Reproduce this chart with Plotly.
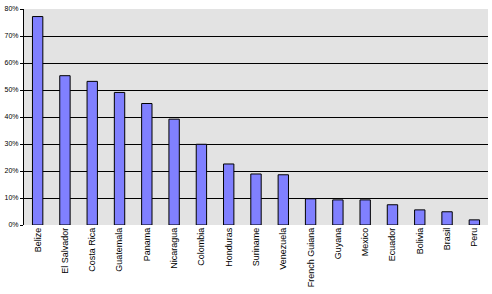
import plotly.graph_objects as go

countries = ["Belize", "El Salvador", "Costa Rica", "Guatemala", "Panama", "Nicaragua",
             "Colombia", "Honduras", "Suriname", "Venezuela", "French Guiana", "Guyana",
             "Mexico", "Ecuador", "Bolivia", "Brasil", "Peru"]
values = [77.2, 55.3, 53.2, 49.1, 45.0, 39.2, 29.9, 22.6, 18.9, 18.6, 9.7, 9.3, 9.3, 7.5, 5.6, 4.9, 1.9]
y_ticks = [0, 10, 20, 30, 40, 50, 60, 70, 80]
y_labels = [f"{v}%" for v in y_ticks]
grid_vals = [10, 20, 30, 40, 50, 60, 70]

fig = go.Figure(go.Bar(
    x=countries, y=values,
    width=0.38,
    marker=dict(color="#8080ff", line=dict(color="black", width=1)),
))

fig.update_layout(
    width=492, height=294,
    margin=dict(l=24, r=4, t=9, b=69),
    paper_bgcolor="white", plot_bgcolor="#e3e3e3",
    showlegend=False,
    font=dict(family="Liberation Sans, Arial, sans-serif", size=8, color="black"),
)
fig.update_xaxes(
    tickangle=-90, showgrid=False, showline=False, ticks="",
    tickfont=dict(size=9), range=[-0.5, len(countries) - 0.5],
)
fig.update_yaxes(
    range=[0, 80], tickvals=y_ticks, ticktext=y_labels,
    showgrid=False,
    minor=dict(tickvals=grid_vals, showgrid=True, gridcolor="black", gridwidth=1, ticks=""),
    showline=True, linecolor="black", linewidth=1,
    ticks="outside", ticklen=3, tickcolor="black", tickwidth=1,
    tickfont=dict(size=7), zeroline=False,
)

fig.write_html("out.html")
